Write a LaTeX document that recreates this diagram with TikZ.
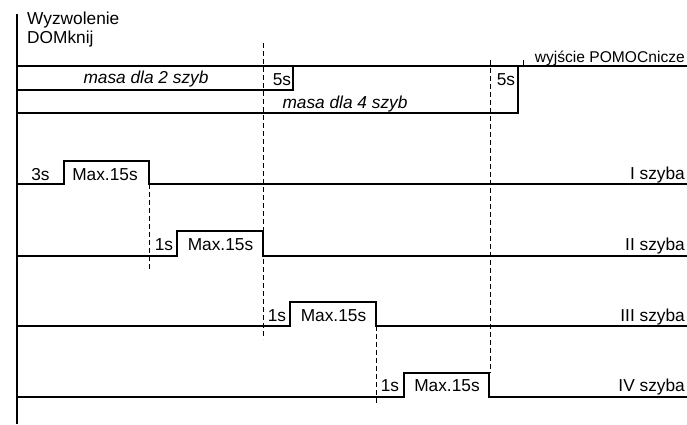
\documentclass[tikz,border=0pt]{standalone}
\usepackage{fontspec}
\setmainfont{Liberation Sans}
\begin{document}
\begin{tikzpicture}[x=1pt,y=-1pt,
  sig/.style={line width=1.7pt,line cap=butt,line join=miter},
  guide/.style={line width=0.9pt,dash pattern=on 5pt off 3pt},
  lbl/.style={inner sep=0pt,font=\fontsize{17.3}{20}\selectfont},
  ilbl/.style={lbl,font=\fontsize{17.3}{20}\selectfont\itshape},
  slbl/.style={inner sep=0pt,font=\fontsize{15.6}{18}\selectfont}]
\useasboundingbox (0,0) rectangle (687,424);
% axis
\draw[sig] (17,14) -- (17,424);
\node[lbl,anchor=base west] (wyz) at (27,24) {Wyzwolenie};
\node[lbl,anchor=base west] (dom) at (27,43) {DOMknij};
% guide lines
\draw[guide] (263,43) -- (263,339);
\draw[guide] (149,184) -- (149,270);
\draw[guide] (376,326) -- (376,405);
\draw[guide] (490,60) -- (490,373);
% top signals
\draw[sig] (17,66) -- (687,66);
\draw[sig] (17,90) -- (293,90) -- (293,66);
\draw[sig] (17,113) -- (518,113) -- (518,66);
\draw[line width=0.8pt] (523,60) -- (523,66);
\node[ilbl,anchor=base] (m2) at (146,83) {masa dla 2 szyb};
\node[ilbl,anchor=base] (m4) at (345,108) {masa dla 4 szyb};
\node[lbl,anchor=base] (t5a) at (282,85) {5s};
\node[lbl,anchor=base] (t5b) at (506,85) {5s};
\node[slbl,anchor=base east] (pom) at (685,62) {wyjście POMOCnicze};
% I szyba
\draw[sig] (17,184) -- (64,184) -- (64,161) -- (149,161) -- (149,184) -- (687,184);
\node[lbl,anchor=base] (s1a) at (40.5,180) {3s};
\node[lbl,anchor=base] (s1b) at (105,180) {Max.15s};
\node[lbl,anchor=base east] (n1) at (685,179) {I szyba};
% II szyba
\draw[sig] (17,256) -- (177,256) -- (177,231) -- (263,231) -- (263,256) -- (687,256);
\node[lbl,anchor=base] (s2a) at (164,250) {1s};
\node[lbl,anchor=base] (s2b) at (220.5,250) {Max.15s};
\node[lbl,anchor=base east] (n2) at (685,250) {II szyba};
% III szyba
\draw[sig] (17,326) -- (290,326) -- (290,302) -- (376,302) -- (376,326) -- (687,326);
\node[lbl,anchor=base] (s3a) at (277,321) {1s};
\node[lbl,anchor=base] (s3b) at (333.5,321) {Max.15s};
\node[lbl,anchor=base east] (n3) at (685,321) {III szyba};
% IV szyba
\draw[sig] (17,397) -- (404,397) -- (404,373) -- (489,373) -- (489,397) -- (687,397);
\node[lbl,anchor=base] (s4a) at (390,391) {1s};
\node[lbl,anchor=base] (s4b) at (447,391) {Max.15s};
\node[lbl,anchor=base east] (n4) at (685,391) {IV szyba};
\end{tikzpicture}
\end{document}
